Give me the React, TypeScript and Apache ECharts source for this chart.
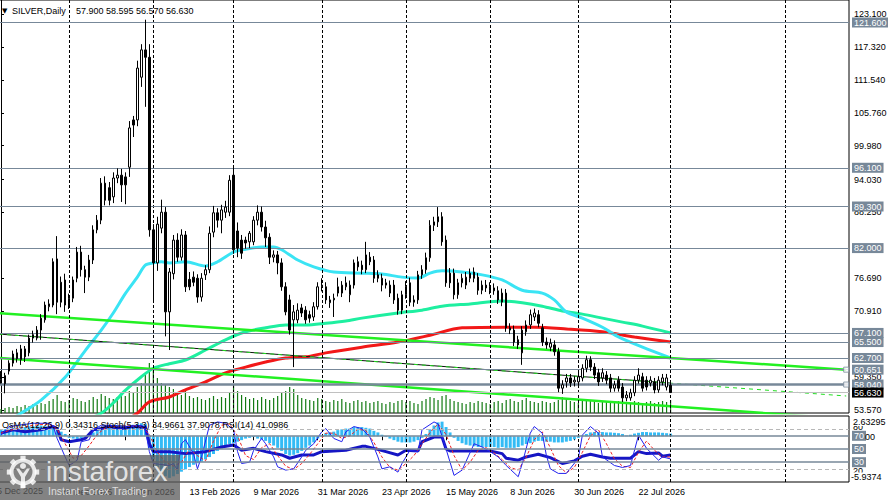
import React, { useEffect, useRef } from "react";
import * as echarts from "echarts";

// ---------- DATA ----------
const opens = [
  58.9, 59.6, 60.4, 61.8, 63.6, 62.4, 64.3, 63.6, 66.2, 66.2,
  67.6, 69.4, 71.7, 72.0, 80.1, 76.0, 76.4, 72.0, 73.2, 76.7,
  81.3, 78.2, 76.9, 79.9, 85.2, 86.9, 93.4, 92.6, 91.0, 94.3,
  94.8, 94.5, 96.2, 104.5, 104.5, 112.0, 116.8, 115.5, 85.2, 79.4,
  85.5, 88.3, 70.8, 77.5, 83.4, 80.4, 84.3, 76.5, 76.9, 76.7,
  73.4, 77.3, 78.2, 84.8, 88.2, 86.9, 88.3, 88.3, 94.8, 85.0,
  83.4, 83.4, 83.1, 83.1, 86.9, 88.3, 85.7, 83.9, 80.4, 80.8,
  79.4, 75.2, 72.9, 69.4, 69.4, 71.5, 71.1, 70.3, 69.9, 71.7,
  75.2, 75.2, 72.4, 72.9, 74.1, 74.1, 75.2, 73.8, 75.5, 79.6,
  79.0, 78.2, 80.4, 79.9, 77.3, 76.7, 75.5, 75.5, 75.5, 73.2,
  71.1, 73.8, 75.9, 72.9, 72.9, 77.3, 78.2, 80.3, 86.0, 86.6,
  87.5, 83.4, 77.6, 77.6, 73.8, 75.9, 75.5, 76.7, 77.8, 76.9,
  74.6, 75.5, 75.2, 75.0, 74.5, 72.5, 74.1, 68.0, 67.6, 65.9,
  63.6, 67.3, 68.5, 69.9, 70.3, 68.0, 65.5, 64.6, 65.0, 63.8,
  57.4, 58.5, 59.2, 58.5, 58.5, 59.2, 60.9, 62.4, 61.1, 60.1,
  59.2, 59.7, 59.2, 57.4, 58.8, 57.6, 55.7, 55.7, 56.6, 58.8,
  59.4, 58.8, 58.3, 58.5, 57.1, 58.5, 57.6, 57.9,
];
const highs = [
  60.4, 60.1, 62.3, 64.0, 64.3, 65.0, 64.8, 66.8, 67.5, 68.3,
  70.4, 72.6, 73.0, 80.2, 84.1, 77.0, 77.5, 74.0, 77.0, 82.2,
  82.4, 78.9, 80.8, 86.0, 87.8, 94.3, 94.6, 93.6, 95.3, 96.0,
  95.9, 95.3, 104.3, 105.2, 114.9, 117.8, 122.1, 117.8, 86.2, 87.5,
  90.5, 89.2, 78.5, 84.3, 84.6, 85.3, 85.0, 77.8, 77.9, 77.4,
  77.6, 79.0, 85.8, 89.4, 89.0, 89.6, 90.3, 94.8, 96.3, 86.5,
  84.3, 84.0, 85.0, 87.6, 89.5, 89.3, 86.8, 84.6, 81.6, 81.5,
  80.2, 76.0, 73.8, 72.0, 72.3, 72.2, 71.8, 71.0, 72.5, 76.0,
  76.7, 76.0, 73.6, 74.0, 76.8, 76.2, 77.0, 76.3, 80.0, 80.5,
  79.8, 83.1, 81.3, 80.6, 78.1, 77.5, 76.6, 76.3, 76.4, 74.0,
  74.5, 76.2, 76.8, 73.7, 78.0, 79.0, 81.2, 86.9, 87.5, 89.2,
  88.3, 84.2, 78.5, 78.4, 76.6, 77.5, 77.8, 78.4, 78.6, 77.6,
  76.3, 76.4, 76.0, 75.8, 75.3, 74.9, 74.8, 68.8, 68.4, 66.6,
  68.3, 69.3, 71.2, 71.4, 71.1, 68.7, 66.3, 66.1, 65.8, 64.5,
  58.8, 59.9, 59.9, 59.5, 60.1, 61.6, 63.1, 63.0, 61.8, 60.8,
  60.9, 60.4, 59.9, 58.7, 59.5, 58.3, 56.9, 57.3, 59.5, 60.9,
  60.1, 59.5, 59.5, 59.2, 59.5, 59.9, 59.9, 58.595,
];
const lows = [
  58.2, 56.5, 59.8, 61.2, 61.9, 61.5, 62.0, 63.0, 65.4, 65.8,
  65.9, 68.9, 70.9, 71.6, 70.4, 71.6, 70.8, 71.3, 72.5, 76.0,
  77.0, 74.1, 76.2, 79.2, 84.6, 86.2, 89.5, 89.5, 89.9, 93.4,
  90.1, 89.7, 94.5, 101.5, 103.4, 110.3, 106.8, 84.0, 72.4, 78.0,
  84.6, 66.5, 64.1, 76.5, 79.6, 79.8, 74.3, 74.6, 75.3, 72.4,
  72.6, 76.4, 77.6, 83.9, 85.6, 84.6, 87.3, 87.6, 81.0, 80.4,
  80.1, 81.9, 82.0, 82.5, 86.0, 84.9, 82.2, 79.2, 79.5, 77.4,
  74.5, 70.2, 66.8, 61.1, 68.8, 69.9, 68.7, 68.9, 69.2, 71.2,
  74.4, 72.2, 71.5, 69.9, 73.5, 73.4, 74.6, 72.5, 74.9, 78.0,
  77.4, 77.6, 79.0, 75.9, 76.0, 74.4, 74.9, 73.4, 72.2, 70.3,
  70.4, 73.1, 71.8, 71.7, 72.2, 76.6, 77.5, 79.6, 85.0, 85.7,
  82.4, 75.2, 75.0, 73.0, 73.1, 75.1, 74.8, 76.0, 76.0, 73.8,
  73.9, 74.3, 73.9, 73.8, 72.2, 71.8, 67.3, 66.9, 64.8, 64.3,
  61.5, 66.6, 67.8, 69.2, 68.1, 64.8, 64.3, 63.9, 63.1, 56.7,
  56.4, 57.5, 57.6, 57.7, 57.8, 58.6, 60.2, 60.4, 59.0, 57.8,
  58.5, 58.1, 56.7, 56.8, 56.8, 55.0, 55.1, 55.2, 56.0, 58.2,
  56.8, 57.0, 57.7, 56.5, 56.6, 57.9, 57.0, 56.57,
];
const closes = [
  59.9, 58.2, 61.8, 63.4, 62.6, 64.3, 62.9, 66.2, 66.8, 67.6,
  69.7, 72.0, 72.2, 79.6, 72.5, 72.5, 72.0, 73.2, 76.4, 81.3,
  78.2, 76.9, 79.9, 85.2, 86.9, 93.4, 90.4, 90.4, 94.3, 94.8,
  93.1, 93.1, 103.1, 103.6, 113.6, 116.8, 115.5, 85.2, 79.4, 86.2,
  88.3, 70.8, 77.8, 83.4, 80.4, 84.3, 75.2, 75.2, 76.0, 73.4,
  76.7, 78.2, 84.6, 88.2, 86.9, 88.7, 89.2, 93.9, 81.7, 82.0,
  81.1, 82.9, 84.6, 86.9, 88.3, 85.7, 83.8, 80.4, 80.8, 79.4,
  75.2, 70.8, 67.6, 70.8, 71.1, 70.6, 69.4, 69.7, 71.7, 75.2,
  75.5, 72.9, 72.9, 73.2, 75.2, 75.5, 75.9, 75.5, 79.4, 78.7,
  78.2, 80.8, 79.6, 76.7, 76.7, 75.5, 75.9, 74.1, 72.9, 71.1,
  73.8, 75.2, 72.5, 72.5, 77.3, 78.2, 80.3, 86.0, 86.6, 87.5,
  83.1, 75.9, 75.9, 73.8, 75.9, 76.7, 76.9, 77.6, 76.7, 74.6,
  75.5, 75.0, 74.6, 74.5, 72.9, 74.1, 68.0, 67.6, 65.5, 65.0,
  67.6, 68.5, 70.3, 70.6, 68.8, 65.5, 65.0, 65.3, 63.8, 57.4,
  58.0, 59.2, 58.3, 58.8, 59.4, 60.9, 62.4, 61.1, 59.7, 58.5,
  60.1, 58.8, 57.4, 58.0, 57.4, 55.7, 56.2, 56.6, 58.8, 59.7,
  57.4, 57.6, 58.8, 57.1, 58.8, 59.2, 59.2, 56.63,
];
const volumes = [
  4, 5, 6, 5, 7, 6, 8, 7, 9, 8, 10,
  9, 12, 14, 18, 12, 11, 13, 15, 14, 12,
  11, 13, 16, 14, 19, 17, 15, 14, 16, 18,
  17, 22, 20, 26, 30, 38, 50, 42, 35, 30, 28, 26,
  24, 20, 18, 22, 17, 15, 16, 14, 13, 15, 17, 14, 16, 15, 20, 28, 22, 18,
  16, 14, 15, 13, 16, 14, 13, 15, 17, 20, 22, 26, 24, 18, 15, 14, 13, 12, 15, 14,
  12, 11, 13, 12, 14, 11, 10, 12, 13, 11, 12, 10, 11, 12, 10, 9, 11, 10, 12, 13,
  11, 12, 10, 9, 12, 14, 16, 15, 13, 17, 18, 14, 12, 11, 10, 9, 11, 10, 12, 11,
  10, 9, 11, 12, 10, 13, 14, 12, 11, 13, 15, 12, 11, 10, 12, 11, 10, 11, 13, 16,
  14, 12, 11, 10, 12, 13, 12, 11, 10, 11, 12, 10, 11, 12, 13, 11, 10, 12, 11, 10, 11, 12, 10, 11, 12, 11, 13,
];
const osma = [
  0.8, 0.9, 1.0, 1.0, 1.1, 1.1, 1.2, 1.3, 1.3, 1.4, 1.4, 1.3, 1.2, 1.3, 1.1,
  0.6, 0.3, -0.2, -0.3, -0.4, -0.3, -0.2,
  0.2, 0.5, 0.8, 1.1, 1.2, 1.3, 1.4, 1.45, 1.4, 1.3, 1.4, 1.5, 1.6, 1.7, 1.6,
  -1.5, -3.0, -4.0, -4.6, -5.2, -5.4, -5.2, -4.9, -4.6, -4.3, -4.0, -3.7, -3.5, -3.3, -3.0, -2.7,
  -2.3, -1.9, -1.6, -1.3, -1.0, -0.9, -0.7, -0.5, -0.3, -0.2, -0.1,
  -0.3, -0.4, -0.6, -0.9, -1.2, -1.5, -1.9, -2.3, -2.5, -2.4, -2.2, -1.9, -1.5, -1.2, -0.8, -0.3, 0.1,
  0.4, 0.5, 0.6, 0.8, 0.9, 1.0, 1.0, 1.2, 1.2, 1.2, 1.1, 1.0, 0.7, 0.5,
  0.2, -0.1, -0.3, -0.5, -0.7, -0.8, -0.8, -0.8, -0.7, -0.5,
  -0.2, 0.3, 0.9, 1.4, 1.8, 1.9, 1.2, 0.5,
  -0.2, -0.6, -0.9, -1.1, -1.2, -1.3, -1.4, -1.4, -1.4, -1.4, -1.4, -1.5, -1.4, -1.5, -1.5, -1.5, -1.4, -1.2, -1.0,
  -0.9, -0.7, -0.6, -0.6, -0.7, -0.7, -0.8, -0.8, -0.8, -0.7, -0.6, -0.4, -0.2,
  0.1, 0.3, 0.5, 0.55, 0.55, 0.55, 0.5, 0.5, 0.45, 0.4, 0.3, 0.1, 0.2, 0.35, 0.45, 0.55, 0.55, 0.5, 0.5, 0.5, 0.45, 0.4, 0.34316,
];
// [bar index, value]
const stochMain = [
  [0, 71], [2, 84], [8, 89], [12, 89], [13, 85], [14, 66], [16, 38], [17, 25], [19, 33], [20, 61], [22, 64], [23, 79], [25, 86], [27, 86],
  [32, 84], [35, 86], [36, 79], [37, 46], [38, 28], [42, 25], [43, 28], [44, 18], [45, 58], [46, 64], [48, 43], [49, 20], [50, 38],
  [52, 86], [54, 91], [56, 89], [58, 79], [59, 46], [60, 28], [62, 30], [63, 48], [65, 66], [66, 58], [68, 38], [69, 23], [71, 18],
  [73, 20], [75, 38], [76, 48], [78, 58], [80, 76], [81, 81], [83, 66], [85, 61], [86, 76], [88, 84], [90, 81], [92, 68], [94, 38],
  [95, 20], [97, 23], [99, 15], [100, 28], [102, 48], [104, 46], [105, 79], [108, 91], [109, 88], [111, 50], [113, 10], [115, 18],
  [118, 58], [120, 53], [122, 46], [124, 38], [126, 25], [129, 8], [130, 28], [132, 74], [133, 84], [135, 74], [136, 41], [137, 20],
  [139, 13], [141, 13], [144, 36], [145, 71], [147, 84], [149, 74], [150, 38], [153, 25], [155, 22], [157, 25], [159, 71], [161, 51],
  [164, 33], [165, 38], [167, 34.97],
];
const stochSignal = [
  [0, 74], [2, 78], [8, 86], [12, 88], [14, 80], [16, 58], [18, 36], [20, 40], [22, 55], [24, 72], [26, 82], [30, 85], [35, 85],
  [37, 72], [39, 45], [41, 30], [43, 24], [45, 30], [47, 50], [49, 40], [51, 32], [53, 62], [55, 86], [57, 88], [59, 70], [61, 40],
  [63, 34], [65, 52], [67, 58], [69, 40], [71, 24], [73, 19], [75, 28], [77, 42], [79, 58], [81, 74], [83, 74], [85, 66], [87, 70],
  [89, 80], [91, 78], [93, 60], [95, 38], [97, 22], [99, 18], [101, 28], [103, 40], [105, 58], [107, 75], [109, 88], [111, 72],
  [113, 40], [115, 18], [117, 30], [119, 48], [121, 52], [123, 44], [125, 34], [127, 22], [129, 18], [131, 38], [133, 64], [135, 76],
  [137, 52], [139, 25], [141, 14], [143, 22], [145, 45], [147, 70], [149, 79], [151, 58], [153, 35], [155, 24], [157, 22], [159, 45],
  [161, 62], [163, 48], [165, 38], [167, 37.91],
];
const rsi = [
  [0, 74], [3, 79], [6, 76], [10, 79], [13, 84], [14, 81], [15, 64], [17, 61], [20, 64], [21, 66], [23, 79], [25, 81], [27, 84],
  [30, 81], [33, 84], [36, 83], [37, 58], [38, 46], [42, 46], [46, 43], [51, 46], [55, 53], [58, 56], [60, 48], [63, 51], [66, 46],
  [70, 41], [72, 36], [75, 41], [78, 41], [80, 46], [83, 47], [86, 48], [90, 54], [91, 54], [93, 51], [96, 46], [99, 41], [101, 48],
  [104, 47], [105, 61], [108, 68], [110, 68], [111, 50], [112, 47], [115, 47], [122, 47], [125, 43], [126, 36], [129, 33], [131, 38],
  [134, 42], [137, 37], [140, 28], [143, 32], [145, 39], [147, 42], [150, 38], [152, 36], [157, 36], [159, 46], [161, 43], [164, 44],
  [165, 39], [167, 41.1],
];
const maFast = [
  [0, 51.0], [5, 53.0], [10, 55.3], [16, 59.3], [21, 64.0], [25, 67.6], [28, 70.6], [31, 74.0], [34, 76.9], [36, 79.0], [38, 79.4],
  [40, 79.6], [42, 79.4], [46, 79.6], [51, 78.85], [54, 79.6], [58, 81.3], [61, 81.8], [65, 82.2], [68, 82.2], [70, 81.7], [74, 79.9],
  [78, 78.7], [83, 77.8], [90, 77.6], [95, 77.45], [100, 76.9], [104, 76.75], [107, 77.6], [110, 78.0], [115, 77.8], [120, 77.3],
  [125, 76.4], [130, 74.6], [135, 74.1], [138, 72.9], [141, 70.8], [145, 69.7], [150, 68.1], [154, 66.4], [160, 64.6], [167, 62.7],
];
const maMid = [
  [20, 51.5], [25, 53.0], [28, 54.8], [31, 57.0], [35, 59.4], [38, 60.9], [42, 61.7], [46, 62.35], [51, 64.1], [56, 65.9], [61, 67.3],
  [66, 68.0], [71, 68.5], [76, 68.5], [81, 68.8], [86, 69.2], [90, 69.7], [99, 70.6], [105, 71.1], [110, 71.8], [117, 72.2],
  [125, 72.7], [130, 72.4], [135, 71.8], [140, 70.95], [145, 70.4], [150, 69.7], [155, 69.0], [160, 68.3], [167, 67.1],
];
const maSlow = [
  [31, 51.8], [34, 53.0], [37, 55.0], [42, 55.85], [46, 57.1], [51, 58.5], [56, 60.1], [61, 61.1], [66, 62.0], [71, 62.7], [76, 62.9],
  [81, 63.6], [90, 64.6], [99, 65.5], [107, 66.7], [115, 68.0], [126, 68.1], [133, 68.1], [141, 67.8], [150, 67.3], [158, 66.4], [167, 65.5],
];
const trendUpper = [[-0.5, 70.55], [210.8, 60.651]];
const trendLower = [[-0.5, 62.7], [210.8, 52.0]];
const trendMiddle = [[-0.5, 66.9], [167, 58.3]];
const trendMiddleRay = [[-0.5, 66.9], [210.8, 56.03]];
const handles = [[210.8, 60.651], [210.8, 58.04]];

const levelValues = [121.6, 96.1, 89.3, 82.0, 67.1, 65.5, 62.7, 60.651, 58.04];
const levelTexts = ["121.600", "96.100", "89.300", "82.000", "67.100", "65.500", "62.700", "60.651", "58.040"];
const bidPrice = 56.63;
const bidText = "56.630";
const priceTicks = [123.1, 117.32, 111.54, 105.76, 99.98, 94.03, 88.25, 76.69, 70.91, 59.35, 53.57];
const monthStarts = [17, 38, 58, 80, 101, 122, 144, 167, 195.6];
const dateLabelIdx = [15, 31, 47, 63, 79, 95, 111, 127, 143, 159];
const dateLabels = ["30 Dec 2025", "22 Jan 2026", "13 Feb 2026", "9 Mar 2026", "31 Mar 2026", "23 Apr 2026", "15 May 2026", "8 Jun 2026", "30 Jun 2026", "22 Jul 2026"];
const firstDateLabel = "5 Dec 2025";
const stochBoxLevels = [70, 50, 30];
const stochDashLevels = [80, 20];

// ---------- LAYOUT ----------
const SLOTS = 212;
const PRICE_MIN = 53.043;
const PRICE_MAX = 125.558;
const FONT = "'Liberation Sans', Arial, Helvetica, sans-serif";
const SLATE = "#778899";
const categories = Array.from({ length: SLOTS }, (_, i) => String(i));
const labelMap: Record<number, string> = {};
dateLabelIdx.forEach((idx, k) => (labelMap[idx] = dateLabels[k]));

function txt(x: number, y: number, text: string, extra: any = {}, z = 50) {
  return {
    type: "text",
    x,
    y,
    z,
    silent: true,
    style: {
      text,
      fill: "#000",
      font: `9px ${FONT}`,
      align: "left",
      verticalAlign: "middle",
      textAlign: "left",
      textVerticalAlign: "middle",
      ...extra,
    },
  };
}

function gearTeeth(cx: number, cy: number, r: number) {
  const out: any[] = [];
  for (let k = 0; k < 8; k++) {
    out.push({
      type: "rect",
      z: 101,
      silent: true,
      shape: { x: cx - 2.6, y: cy - r - 3.2, width: 5.2, height: 4.5 },
      rotation: (k * Math.PI) / 4,
      originX: cx,
      originY: cy,
      style: { fill: "rgba(255,255,255,0.82)" },
    });
  }
  return out;
}

function buildOption(): any {
  const candleData = opens.map((o, i) => [o, closes[i], lows[i], highs[i]]);
  const levelLabel = {
    show: true,
    position: "end",
    distance: 3,
    fontSize: 9,
    fontFamily: FONT,
    color: "#fff",
    backgroundColor: SLATE,
    padding: [1, 2, 0, 2],
    lineHeight: 9,
  };

  return {
    animation: false,
    backgroundColor: "#ffffff",
    textStyle: { fontFamily: FONT },
    grid: [
      { left: -1, right: 39, top: 0, bottom: 87, show: true, borderColor: "#000", borderWidth: 1, backgroundColor: "transparent", outerBoundsMode: "none", containLabel: false },
      { left: -1, right: 39, top: 416, bottom: 18, show: true, borderColor: "#000", borderWidth: 1, backgroundColor: "transparent", outerBoundsMode: "none", containLabel: false },
    ],
    xAxis: [
      { type: "category", gridIndex: 0, data: categories, show: false, boundaryGap: true },
      { type: "value", gridIndex: 0, min: -0.5, max: SLOTS - 0.5, show: false },
      {
        type: "category",
        gridIndex: 1,
        data: categories,
        boundaryGap: true,
        axisLine: { show: false },
        axisTick: {
          show: true,
          alignWithLabel: true,
          interval: (i: number) => labelMap[i] !== undefined,
          length: 4,
          lineStyle: { color: "#000" },
        },
        splitLine: { show: false },
        axisLabel: {
          interval: (i: number) => labelMap[i] !== undefined,
          formatter: (_v: string, i: number) => labelMap[i] ?? "",
          align: "left",
          fontSize: 9,
          color: "#000",
          margin: 5,
          fontFamily: FONT,
        },
      },
      { type: "value", gridIndex: 1, min: -0.5, max: SLOTS - 0.5, show: false },
    ],
    yAxis: [
      {
        type: "value",
        gridIndex: 0,
        position: "right",
        min: PRICE_MIN,
        max: PRICE_MAX,
        splitLine: { show: false },
        axisLine: { show: true, lineStyle: { color: "#000" } },
        axisTick: { show: true, length: 3, lineStyle: { color: "#000" }, customValues: priceTicks },
        axisLabel: {
          customValues: priceTicks,
          formatter: (v: number) => v.toFixed(3),
          fontSize: 9,
          color: "#000",
          margin: 5,
          fontFamily: FONT,
        },
      },
      { type: "value", gridIndex: 0, min: 0, max: 413, show: false },
      { type: "value", gridIndex: 1, min: -5.9374, max: 2.63295, show: false },
      { type: "value", gridIndex: 1, min: 0, max: 100, show: false },
    ],
    series: [
      {
        type: "line",
        name: "gridMain",
        xAxisIndex: 1,
        yAxisIndex: 0,
        data: [],
        silent: true,
        z: 1,
        markLine: {
          silent: true,
          symbol: ["none", "none"],
          label: { show: false },
          lineStyle: { color: "#000", width: 1, type: [3, 2] },
          data: monthStarts.map((v) => ({ xAxis: v })),
        },
      },
      {
        type: "bar",
        name: "volume",
        xAxisIndex: 0,
        yAxisIndex: 1,
        data: volumes,
        barWidth: 1.2,
        silent: true,
        z: 1,
        itemStyle: { color: "#127A12" },
      },
      {
        type: "line",
        name: "levels",
        xAxisIndex: 1,
        yAxisIndex: 0,
        data: [],
        silent: true,
        z: 2,
        markLine: {
          silent: true,
          symbol: ["none", "none"],
          label: { ...levelLabel, formatter: (p: any) => p.name },
          data: [
            ...levelValues.map((v, k) => ({
              yAxis: v,
              name: levelTexts[k],
              lineStyle: { color: SLATE, width: v === 58.04 ? 2.5 : 1.2, type: "solid" },
            })),
            {
              yAxis: bidPrice,
              name: bidText,
              lineStyle: { color: "#C0C0C0", width: 1, type: "solid" },
              label: { backgroundColor: "#000", color: "#fff" },
            },
          ],
        },
      },
      {
        type: "line",
        name: "maSlow",
        xAxisIndex: 1,
        yAxisIndex: 0,
        data: maSlow,
        showSymbol: false,
        smooth: 0.3,
        silent: true,
        z: 3,
        lineStyle: { color: "#F21818", width: 3 },
      },
      {
        type: "line",
        name: "maMid",
        xAxisIndex: 1,
        yAxisIndex: 0,
        data: maMid,
        showSymbol: false,
        smooth: 0.3,
        silent: true,
        z: 3,
        lineStyle: { color: "#1EEFA0", width: 3 },
      },
      {
        type: "line",
        name: "maFast",
        xAxisIndex: 1,
        yAxisIndex: 0,
        data: maFast,
        showSymbol: false,
        smooth: 0.3,
        silent: true,
        z: 3,
        lineStyle: { color: "#3AE4F4", width: 3 },
      },
      {
        type: "line",
        name: "trendUpper",
        xAxisIndex: 1,
        yAxisIndex: 0,
        data: trendUpper,
        showSymbol: false,
        silent: true,
        z: 3,
        lineStyle: { color: "#22F022", width: 2.5 },
      },
      {
        type: "line",
        name: "trendLower",
        xAxisIndex: 1,
        yAxisIndex: 0,
        data: trendLower,
        showSymbol: false,
        silent: true,
        z: 3,
        lineStyle: { color: "#22F022", width: 2.5 },
      },
      {
        type: "line",
        name: "trendMiddle",
        xAxisIndex: 1,
        yAxisIndex: 0,
        data: trendMiddle,
        showSymbol: false,
        silent: true,
        z: 3,
        lineStyle: { color: "#111", width: 1 },
      },
      {
        type: "line",
        name: "trendMiddleRay",
        xAxisIndex: 1,
        yAxisIndex: 0,
        data: trendMiddleRay,
        showSymbol: false,
        silent: true,
        z: 3,
        lineStyle: { color: "#22DD22", width: 1, type: [4, 4] },
      },
      {
        type: "scatter",
        name: "handles",
        xAxisIndex: 1,
        yAxisIndex: 0,
        data: handles,
        symbol: "rect",
        symbolSize: 5,
        silent: true,
        z: 6,
        itemStyle: { color: "#fff", borderColor: SLATE, borderWidth: 1 },
      },
      {
        type: "candlestick",
        name: "SILVER",
        xAxisIndex: 0,
        yAxisIndex: 0,
        data: candleData,
        barWidth: 2,
        silent: true,
        z: 5,
        itemStyle: { color: "#ffffff", color0: "#000000", borderColor: "#000000", borderColor0: "#000000", borderWidth: 1 },
      },
      {
        type: "line",
        name: "gridInd",
        xAxisIndex: 3,
        yAxisIndex: 3,
        data: [],
        silent: true,
        z: 1,
        markLine: {
          silent: true,
          symbol: ["none", "none"],
          label: { show: false },
          lineStyle: { color: "#000", width: 1, type: [3, 2] },
          data: monthStarts.map((v) => ({ xAxis: v })),
        },
      },
      {
        type: "line",
        name: "stochLevels",
        xAxisIndex: 3,
        yAxisIndex: 3,
        data: [],
        silent: true,
        z: 2,
        markLine: {
          silent: true,
          symbol: ["none", "none"],
          label: { ...levelLabel, formatter: (p: any) => p.name },
          data: [
            ...stochBoxLevels.map((v) => ({ yAxis: v, name: String(v), lineStyle: { color: SLATE, width: 1.5, type: "solid" } })),
            ...stochDashLevels.map((v) => ({ yAxis: v, name: String(v), lineStyle: { color: "#B8B8B8", width: 1, type: [4, 3] }, label: { show: false } })),
          ],
        },
      },
      {
        type: "bar",
        name: "OsMA",
        xAxisIndex: 2,
        yAxisIndex: 2,
        data: osma,
        barWidth: 3,
        silent: true,
        z: 2,
        itemStyle: { color: "#33BBF5" },
      },
      {
        type: "line",
        name: "RSI",
        xAxisIndex: 3,
        yAxisIndex: 3,
        data: rsi,
        showSymbol: false,
        silent: true,
        z: 3,
        lineStyle: { color: "#1616C4", width: 3 },
      },
      {
        type: "line",
        name: "StochSignal",
        xAxisIndex: 3,
        yAxisIndex: 3,
        data: stochSignal,
        showSymbol: false,
        silent: true,
        z: 4,
        lineStyle: { color: "#F02424", width: 1, type: [3, 2] },
      },
      {
        type: "line",
        name: "StochMain",
        xAxisIndex: 3,
        yAxisIndex: 3,
        data: stochMain,
        showSymbol: false,
        silent: true,
        z: 4,
        lineStyle: { color: "#2222EE", width: 1 },
      },
    ],
    graphic: [
      txt(2, 10.5, "▼", { font: `7px 'DejaVu Sans', sans-serif` }),
      txt(12, 10.5, "SILVER,Daily"),
      txt(76, 10.5, "57.900 58.595 56.570 56.630"),
      txt(2, 425, "OsMA(12,26,9) 0.34316 Stoch(5,3,3) 34.9661 37.9078 RSI(14) 41.0986"),
      txt(853, 427, "80", {}, 60),
      txt(853, 421.5, "2.63295", { backgroundColor: "#fff" }, 61),
      txt(865, 436.5, "00", {}, 60),
      txt(853, 471, "20", {}, 60),
      txt(851, 477, "-5.9374", { backgroundColor: "#fff" }, 61),
      txt(-3, 491, firstDateLabel, {}, 40),
      // logo
      {
        type: "rect",
        z: 100,
        silent: true,
        shape: { x: 0, y: 455, width: 180, height: 45 },
        style: { fill: "rgba(92,92,92,0.76)" },
      },
      ...gearTeeth(23, 472, 13),
      {
        type: "ring",
        z: 101,
        silent: true,
        shape: { cx: 23, cy: 472, r: 13.5, r0: 9.5 },
        style: { fill: "rgba(255,255,255,0.82)" },
      },
      {
        type: "circle",
        z: 101,
        silent: true,
        shape: { cx: 23, cy: 466, r: 3 },
        style: { fill: "rgba(255,255,255,0.82)" },
      },
      {
        type: "polygon",
        z: 101,
        silent: true,
        shape: {
          points: [[16, 468.5], [19, 468.5], [23, 473.5], [27, 468.5], [30, 468.5], [25, 477], [25, 488], [21, 488], [21, 477]],
        },
        style: { fill: "rgba(255,255,255,0.82)" },
      },
      txt(46, 471, "instaforex", { font: `28px ${FONT}`, fill: "rgba(240,240,240,0.9)" }, 102),
      txt(48, 491, "Instant Forex Trading", { font: `10.5px ${FONT}`, fill: "rgba(232,232,232,0.9)" }, 102),
    ],
  };
}

export default function App() {
  const ref = useRef<HTMLDivElement>(null);
  useEffect(() => {
    document.body.style.margin = "0";
    if (!ref.current) return;
    const chart = echarts.init(ref.current, null, { renderer: "svg" });
    chart.setOption(buildOption());
    return () => chart.dispose();
  }, []);
  return <div ref={ref} style={{ width: 888, height: 500, background: "#fff" }} />;
}
